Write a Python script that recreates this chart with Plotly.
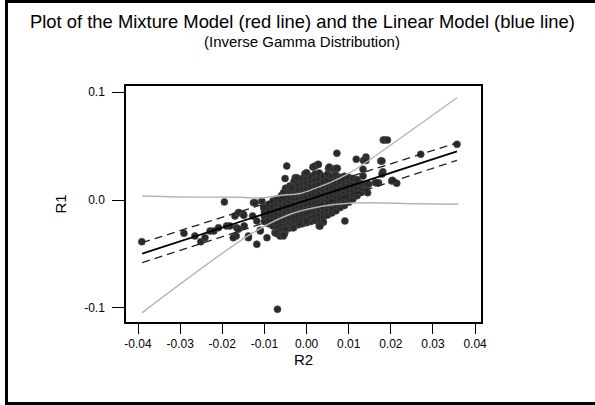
import plotly.graph_objects as go

# ---- data ----
outlier_r2 = [-0.0391, -0.0291, -0.0265, -0.0251, -0.0241, -0.0229, -0.0220, -0.0209, -0.0195, -0.0190,
              -0.0182, -0.0170, -0.0166, -0.0167, -0.0162, -0.0160, -0.0150, -0.0149, -0.0148, -0.0162,
              -0.0174, -0.0138, -0.0138, -0.0128, -0.0126, -0.0122, -0.0118, -0.0118, -0.0110, -0.0110,
              -0.0106, -0.0102, -0.0094, -0.0075, -0.0071, -0.0063, -0.0055, -0.0052, -0.0051, -0.0069,
              -0.0047, -0.0051, -0.0027, -0.0028, -0.0035, -0.0055, -0.0031, -0.0035, -0.0023, -0.0004,
              0.0000, 0.0015, 0.0020, 0.0027, 0.0028, 0.0052, 0.0054, 0.0064, 0.0070, 0.0072,
              0.0073, 0.0118, 0.0141, 0.0135, 0.0141, 0.0176, 0.0179, 0.0182, 0.0185, 0.0192,
              0.0271, 0.0357, 0.0181, 0.0179, 0.0134, 0.0134, 0.0143, 0.0145, 0.0163, 0.0171,
              0.0202, 0.0214, 0.0204, 0.0167, 0.0147, 0.0091, 0.0040, 0.0030, 0.0032, -0.0015,
              -0.0031, -0.0055, 0.0000]
outlier_r1 = [-0.0386, -0.0309, -0.0333, -0.0386, -0.0349, -0.0287, -0.0287, -0.0256, -0.0018, -0.0240,
              -0.0240, -0.0148, -0.0256, -0.0333, -0.0117, -0.0117, -0.0133, -0.0142, -0.0240, -0.0271,
              -0.0349, -0.0333, -0.0349, -0.0148, -0.0025, -0.0025, -0.0410, -0.0194, -0.0280, -0.0287,
              -0.0009, -0.0071, -0.0349, -0.0303, -0.0310, -0.0333, -0.0333, -0.0310, -0.0271, -0.1012,
              0.0315, 0.0199, 0.0207, 0.0180, 0.0114, 0.0068, -0.0256, -0.0240, 0.0207, 0.0244,
              0.0253, 0.0305, 0.0315, 0.0330, 0.0330, 0.0293, 0.0305, 0.0285, 0.0293, 0.0433,
              0.0293, 0.0377, 0.0398, 0.0367, 0.0367, 0.0361, 0.0361, 0.0556, 0.0556, 0.0556,
              0.0423, 0.0516, 0.0262, 0.0240, 0.0284, 0.0222, 0.0145, 0.0068, 0.0160, 0.0160,
              0.0176, 0.0155, 0.0182, 0.0160, 0.0147, -0.0194, -0.0205, -0.0240, -0.0240, -0.0219,
              -0.0256, -0.0324, -0.0194]

core_columns = [
    (-0.010, [-0.020, -0.015, -0.011, -0.006]),
    (-0.009, [-0.022, -0.017, -0.013, -0.009, -0.004]),
    (-0.008, [-0.024, -0.019, -0.014, -0.010, -0.006, -0.001]),
    (-0.007, [-0.025, -0.020, -0.016, -0.012, -0.008, -0.004, 0.001]),
    (-0.006, [-0.027, -0.022, -0.018, -0.013, -0.009, -0.005, -0.001, 0.004]),
    (-0.005, [-0.028, -0.023, -0.019, -0.015, -0.011, -0.007, -0.003, 0.001, 0.006, 0.011]),
    (-0.004, [-0.026, -0.021, -0.017, -0.013, -0.009, -0.005, -0.001, 0.003, 0.008, 0.013]),
    (-0.003, [-0.024, -0.019, -0.015, -0.011, -0.007, -0.003, 0.001, 0.005, 0.009, 0.014, 0.017]),
    (-0.002, [-0.023, -0.018, -0.014, -0.010, -0.006, -0.002, 0.002, 0.006, 0.010, 0.015, 0.019]),
    (-0.001, [-0.022, -0.017, -0.013, -0.009, -0.005, -0.001, 0.003, 0.007, 0.011, 0.016, 0.020]),
    (0.000, [-0.021, -0.016, -0.012, -0.008, -0.004, 0.000, 0.004, 0.008, 0.012, 0.016, 0.021]),
    (0.001, [-0.020, -0.015, -0.011, -0.007, -0.003, 0.001, 0.005, 0.009, 0.013, 0.018, 0.022]),
    (0.002, [-0.019, -0.014, -0.010, -0.006, -0.002, 0.002, 0.006, 0.010, 0.014, 0.019, 0.024]),
    (0.003, [-0.018, -0.013, -0.009, -0.005, -0.001, 0.003, 0.007, 0.011, 0.015, 0.020, 0.025]),
    (0.004, [-0.016, -0.011, -0.007, -0.003, 0.001, 0.005, 0.009, 0.013, 0.017, 0.022]),
    (0.005, [-0.014, -0.009, -0.005, -0.001, 0.003, 0.007, 0.011, 0.015, 0.019, 0.024]),
    (0.006, [-0.012, -0.007, -0.003, 0.001, 0.005, 0.009, 0.013, 0.017, 0.022]),
    (0.007, [-0.010, -0.005, -0.001, 0.003, 0.007, 0.011, 0.015, 0.019, 0.023]),
    (0.008, [-0.007, -0.003, 0.001, 0.005, 0.009, 0.013, 0.017, 0.021]),
    (0.009, [-0.005, -0.001, 0.003, 0.007, 0.011, 0.015, 0.019, 0.022]),
    (0.010, [-0.002, 0.002, 0.006, 0.010, 0.014, 0.018, 0.021]),
    (0.011, [0.001, 0.005, 0.009, 0.013, 0.017, 0.020]),
    (0.012, [0.004, 0.008, 0.012, 0.016, 0.019]),
    (0.013, [0.007, 0.011, 0.015]),
    (0.014, [0.010, 0.014]),
]

fit_r2 = [-0.0390, 0.0357]
fit_r1 = [-0.0497, 0.0451]
upper_pi_r1 = [-0.0395, 0.0530]
lower_pi_r1 = [-0.0580, 0.0367]

mix_upper_r2 = [-0.0390, -0.0307, -0.0158, -0.0106, -0.0063, -0.0015, 0.0008, 0.0056, 0.0103, 0.0134, 0.0357]
mix_upper_r1 = [0.0037, 0.0028, 0.0025, 0.0019, 0.0042, 0.0060, 0.0090, 0.0160, 0.0253, 0.0330, 0.0947]
mix_lower_r2 = [-0.0390, -0.0127, -0.0039, 0.0039, 0.0087, 0.0151, 0.0260, 0.0360]
mix_lower_r1 = [-0.1043, -0.0303, -0.0132, -0.0056, -0.0034, -0.0025, -0.0035, -0.0040]

x_ticks = [-0.04, -0.03, -0.02, -0.01, 0.0, 0.01, 0.02, 0.03, 0.04]
x_tick_labels = ["-0.04", "-0.03", "-0.02", "-0.01", "0.00", "0.01", "0.02", "0.03", "0.04"]
y_ticks = [-0.1, 0.0, 0.1]
y_tick_labels = ["-0.1", "0.0", "0.1"]

title_line1 = "Plot of the Mixture Model (red line) and the Linear Model (blue line)"
title_line2 = "(Inverse Gamma Distribution)"

core_r2 = [c[0] for c in core_columns for _ in c[1]]
core_r1 = [v for c in core_columns for v in c[1]]

pts_r2 = core_r2 + outlier_r2
pts_r1 = core_r1 + outlier_r1

FONT = "Liberation Sans, Arial, sans-serif"

fig = go.Figure()
fig.add_trace(go.Scatter(x=pts_r2, y=pts_r1, mode="markers",
                         marker=dict(size=7, color="#2a2a2a", line=dict(width=0.6, color="#4a4a4a")),
                         showlegend=False, hoverinfo="skip"))
fig.add_trace(go.Scatter(x=fit_r2, y=fit_r1, mode="lines",
                         line=dict(color="black", width=1.8), showlegend=False))
fig.add_trace(go.Scatter(x=fit_r2, y=upper_pi_r1, mode="lines",
                         line=dict(color="#222222", width=1.3, dash="8px,5px"), showlegend=False))
fig.add_trace(go.Scatter(x=fit_r2, y=lower_pi_r1, mode="lines",
                         line=dict(color="#222222", width=1.3, dash="8px,5px"), showlegend=False))
fig.add_trace(go.Scatter(x=mix_upper_r2, y=mix_upper_r1, mode="lines", line_shape="spline",
                         line=dict(color="#b4b4b4", width=1.4), showlegend=False))
fig.add_trace(go.Scatter(x=mix_lower_r2, y=mix_lower_r1, mode="lines", line_shape="spline",
                         line=dict(color="#b4b4b4", width=1.4), showlegend=False))

# plot area in pixels: l=126, r=481, t=86, b=322
def px2paper_x(px):
    return (px - 126) / 355.0

def py2paper_y(py):
    return (322 - py) / 236.0

fig.add_shape(type="rect", xref="paper", yref="paper",
              x0=px2paper_x(6.5), x1=px2paper_x(640), y0=py2paper_y(403.5), y1=py2paper_y(1.5),
              line=dict(color="black", width=3), fillcolor="rgba(0,0,0,0)", layer="above")

fig.add_annotation(text=title_line1, xref="paper", yref="paper",
                   x=px2paper_x(302), y=py2paper_y(21), xanchor="center", yanchor="middle",
                   showarrow=False, font=dict(family=FONT, size=18.4, color="black"))
fig.add_annotation(text=title_line2, xref="paper", yref="paper",
                   x=px2paper_x(302), y=py2paper_y(41.5), xanchor="center", yanchor="middle",
                   showarrow=False, font=dict(family=FONT, size=15, color="black"))

fig.update_layout(
    width=595, height=405,
    margin=dict(l=126, r=114, t=86, b=83),
    paper_bgcolor="white", plot_bgcolor="white",
    font=dict(family=FONT, color="black", size=12),
    xaxis=dict(range=[-0.04285, 0.0414], tickvals=x_ticks, ticktext=x_tick_labels,
               showgrid=False, zeroline=False, showline=True, linecolor="black", linewidth=1.5,
               mirror=True, ticks="outside", ticklen=10, tickwidth=1, tickcolor="black",
               tickfont=dict(size=12),
               title=dict(text="R2", font=dict(size=15), standoff=2)),
    yaxis=dict(range=[-0.113, 0.1056], tickvals=y_ticks, ticktext=y_tick_labels,
               showgrid=False, zeroline=False, showline=True, linecolor="black", linewidth=1.5,
               mirror=True, ticks="outside", ticklen=12, tickwidth=1, tickcolor="black",
               tickfont=dict(size=12), ticklabelstandoff=5,
               title=dict(text="R1", font=dict(size=15), standoff=14)),
)

fig.write_html("out.html", config={"displayModeBar": False},
               post_script="document.body.style.margin='0px';document.body.style.overflow='hidden';")
